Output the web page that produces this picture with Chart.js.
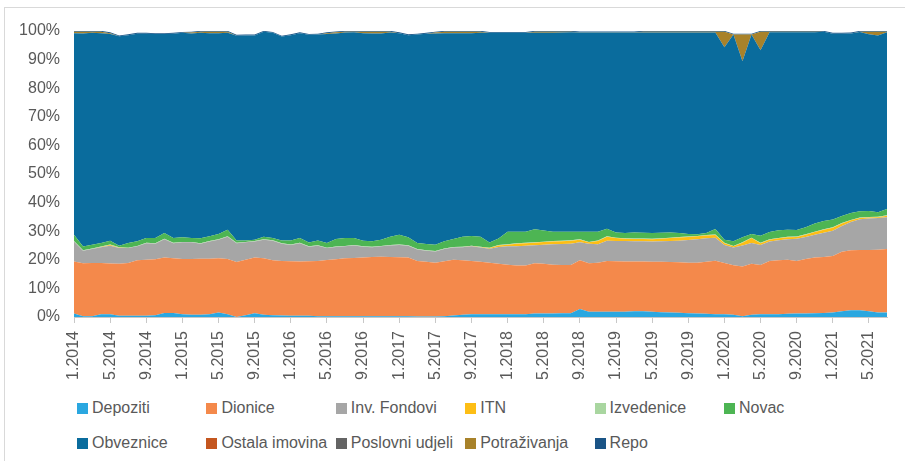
<!DOCTYPE html>
<html lang="hr">
<head>
  <meta charset="UTF-8" />
  <title>Struktura imovine</title>
  <script src="https://cdn.jsdelivr.net/npm/chart.js"></script>
  <style>
    body {
      margin: 0;
      background: white;
      font-family: "Liberation Sans", Arial, sans-serif;
      color: #595959;
    }
    .frame {
      position: absolute;
      left: 4px;
      top: 7px;
      width: 1000px;
      height: 1000px;
      border-left: 1px solid #d9d9d9;
      border-top: 1px solid #d9d9d9;
    }
    #chart {
      position: absolute;
      left: 0;
      top: 0;
    }
    .legend-item {
      position: absolute;
      font-size: 16px;
      line-height: 18px;
      white-space: nowrap;
    }
    .legend-item span {
      display: inline-block;
      width: 11px;
      height: 11px;
      margin-right: 4px;
      vertical-align: -1px;
    }
  </style>
</head>
<body>
  <div class="frame"></div>
  <canvas id="chart" width="905" height="390"></canvas>
  <div id="legend"></div>

  <script>
    // monthly, 1.2014 .. 7.2021
    const months = [];
    for (let y = 2014; y <= 2021; y++) {
      for (let m = 1; m <= 12; m++) {
        if (y === 2021 && m > 7) break;
        months.push(m + "." + y);
      }
    }

    const depoziti = [1.2,0.3,0.3,1.0,1.0,0.4,0.4,0.4,0.4,0.6, 1.4,1.4,1.0,0.8,0.8,1.0,1.6,1.0,0.0,0.6, 1.3,0.8,0.6,0.5,0.4,0.4,0.4,0.3,0.3,0.3, 0.3,0.3,0.3,0.3,0.3,0.3,0.3,0.3,0.2,0.2, 0.2,0.3,0.5,0.8,1.0,1.0,1.0,1.0,1.0,1.0, 1.0,1.2,1.2,1.2,1.3,1.3,2.8,1.8,1.8,1.8, 1.8,1.8,2.0,2.0,1.8,1.7,1.6,1.5,1.3,1.2, 1.1,1.0,1.0,0.8,0.3,0.8,1.0,1.0,1.0,1.1, 1.2,1.2,1.3,1.4,1.6,2.0,2.4,2.4,2.0,1.6, 1.6];
    const dionice = [18.2,18.5,18.6,17.9,17.7,18.2,18.5,19.4,19.6,19.6, 19.4,19.1,19.3,19.5,19.6,19.4,18.9,19.3,19.2,19.4, 19.5,19.7,19.2,19.1,19.1,19.0,19.1,19.3,19.6,19.9, 20.2,20.3,20.5,20.7,20.8,20.7,20.6,20.5,19.4,19.1, 18.8,19.2,19.5,19.0,18.6,18.3,18.0,17.6,17.3,17.0, 17.0,17.6,17.4,17.1,16.9,16.9,17.0,17.0,17.2,17.8, 17.7,17.6,17.4,17.4,17.5,17.6,17.6,17.6,17.7,17.8, 18.2,18.7,17.9,17.3,17.4,17.8,17.2,18.6,18.8,18.9, 18.4,19.1,19.5,19.6,19.7,20.8,20.9,21.0,21.4,21.9, 22.2];
    const invFondovi = [7.0,4.4,4.9,5.5,6.2,5.5,5.2,4.9,5.8,5.4, 6.4,5.3,5.8,5.8,5.2,6.0,6.5,7.8,6.6,6.1, 5.6,6.5,6.9,6.0,5.7,6.4,5.1,5.3,4.2,4.3, 4.2,4.4,3.8,3.4,3.6,4.0,4.3,4.1,4.0,3.9, 3.9,4.3,4.3,4.6,5.1,5.0,4.9,5.9,6.4,6.7, 6.9,6.3,6.7,7.1,7.3,7.4,6.3,6.8,6.4,7.1, 7.1,7.2,7.1,7.1,7.1,7.2,7.4,7.6,7.9,8.2, 8.2,8.0,6.3,6.2,7.3,7.3,7.0,6.8,7.0,7.2, 7.8,7.7,8.0,8.5,8.9,9.0,9.9,10.8,11.0,11.1, 11.1];
    const itn = [0,0,0,0.1,0.3,0.1,0,0,0,0, 0,0,0,0,0,0,0,0,0,0, 0,0,0,0,0,0,0,0,0,0, 0,0,0,0,0,0,0,0,0,0, 0,0,0,0,0.1,0.1,0.2,0.5,0.6,0.9, 0.9,0.9,0.9,1.0,1.0,1.1,0.9,0.5,1.2,1.4, 1.0,0.8,0.8,0.8,0.8,0.9,1.0,1.1,1.1,1.0, 1.0,1.0,0.6,0.4,1.0,1.7,0.6,0.6,0.7,0.7, 0.6,0.8,0.9,1.0,1.0,0.9,0.6,0.4,0.4,0.3, 0.5];
    const izvedenice = [0.15,0.15,0.15,0.15,0.15,0.15,0.15,0.15,0.15,0.15, 0.15,0.15,0.15,0.15,0.15,0.15,0.15,0.15,0.15,0.15, 0.15,0.15,0.15,0.15,0.15,0.15,0.15,0.15,0.15,0.15, 0.15,0.15,0.15,0.15,0.15,0.15,0.15,0.15,0.15,0.15, 0.15,0.15,0.15,0.15,0.15,0.15,0.15,0.15,0.15,0.15, 0.15,0.15,0.15,0.15,0.15,0.15,0.15,0.15,0.15,0.15, 0.15,0.15,0.15,0.15,0.15,0.15,0.15,0.15,0.15,0.15, 0.15,0.15,0.15,0.15,0.15,0.15,0.15,0.15,0.15,0.15, 0.15,0.15,0.15,0.15,0.15,0.15,0.15,0.15,0.15,0.15, 0.15];
    const novac = [2.2,1.3,1.3,1.2,1.3,0.6,1.6,1.6,1.7,1.9, 2.0,1.7,1.6,1.4,1.8,1.7,1.9,2.3,0.8,0.5, 0.5,0.9,0.8,1.0,1.4,1.7,1.3,1.7,1.6,2.6, 2.8,2.5,1.9,1.9,2.2,2.9,3.4,2.8,2.1,2.2, 2.2,2.5,2.8,3.5,3.4,3.5,1.8,2.3,4.4,4.1, 3.9,4.5,3.9,3.3,3.2,3.0,2.7,3.6,3.1,2.6, 1.8,1.8,2.1,2.0,2.0,1.9,1.8,1.4,0.9,0.6, 0.7,1.9,1.1,1.6,1.7,1.3,2.5,2.6,2.7,2.5, 2.3,2.4,2.8,2.9,2.7,2.5,2.4,2.2,2.1,1.6, 2.2];
    const obveznice = [70.5,74.5,74.1,73.4,72.3,73.2,72.7,72.6,71.4,71.3, 69.6,71.4,71.5,71.5,71.8,71.0,70.2,68.8,71.6,71.7, 71.4,71.7,71.7,71.3,71.8,71.6,72.6,72.0,73.1,71.9, 71.8,71.9,72.6,72.7,72.1,71.4,70.5,70.7,72.9,73.5, 73.9,72.8,72.0,71.2,70.9,71.3,73.3,71.9,69.5,69.5, 69.5,68.7,69.1,69.5,69.6,69.7,69.6,69.6,69.6,68.6, 69.9,70.1,69.9,70.0,70.1,70.0,69.9,70.1,70.4,70.5, 70.1,68.7,67.3,72.3,61.6,69.7,64.8,69.8,69.2,69.0, 69.1,68.2,66.9,66.2,65.0,63.7,62.8,62.7,61.8,61.8, 61.8];
    const ostalaImovina = [0,0,0,0,0,0,0,0,0,0, 0,0,0,0,0,0,0,0,0,0, 0,0,0,0,0,0,0,0,0,0, 0,0,0,0,0,0,0,0,0,0, 0,0,0,0,0,0,0,0,0,0, 0,0,0,0,0,0,0,0,0,0, 0,0,0,0,0,0,0,0,0,0, 0,0,0,0,0,0,0,0,0,0, 0,0,0,0,0,0,0,0,0,0, 0];
    const poslovniUdjeli = [0,0,0,0,0,0,0,0,0,0, 0,0,0,0,0,0,0,0,0,0, 0,0,0,0,0,0,0,0,0,0, 0,0,0,0,0,0,0,0,0,0, 0,0,0,0,0,0,0,0,0,0, 0,0,0,0,0,0,0,0,0,0, 0,0,0,0,0,0,0,0,0,0, 0,0,0,0,0,0,0,0,0,0, 0,0,0,0,0,0,0,0,0,0, 0];
    const potrazivanja = [0.5,0.6,0.4,0.5,0.3,0,0,0,0,0, 0,0,0,0.3,0.4,0.5,0.5,0.4,0,0, 0,0,0,0,0,0,0,0,0.3,0.4, 0.3,0.2,0.5,0.6,0.6,0.3,0,0,0,0, 0.3,0.5,0.5,0.5,0.5,0.4,0,0,0,0, 0,0.4,0.4,0.4,0.3,0.2,0.1,0.1,0.1,0.1, 0.1,0.1,0.1,0.3,0.3,0.3,0.3,0.3,0.3,0.3, 0.3,0.3,5.4,0,9.3,0,6.5,0.2,0.2,0.2, 0.2,0.2,0.2,0,0,0,0,0.1,0.9,1.3, 0.2];
    const repo = [0.3,0.3,0.3,0.3,0.3,0.3,0.3,0.3,0.3,0.3, 0.3,0.3,0.3,0.3,0.3,0.3,0.3,0.3,0.3,0.3, 0.3,0.3,0.3,0.3,0.3,0.3,0.3,0.3,0.3,0.3, 0.3,0.3,0.3,0.3,0.3,0.3,0.3,0.3,0.3,0.3, 0.3,0.3,0.3,0.3,0.3,0.3,0.3,0.3,0.3,0.3, 0.3,0.3,0.3,0.3,0.3,0.3,0.3,0.3,0.3,0.3, 0.3,0.3,0.3,0.3,0.3,0.3,0.3,0.3,0.3,0.3, 0.3,0.3,0.3,0.3,0.3,0.3,0.3,0.3,0.3,0.3, 0.3,0.3,0.3,0.3,0.3,0.3,0.3,0.3,0.3,0.3, 0.3];

    const yTicks = [0, 10, 20, 30, 40, 50, 60, 70, 80, 90, 100];

    const series = [
      { label: "Depoziti", data: depoziti, color: "#2aa7e0" },
      { label: "Dionice", data: dionice, color: "#f4894b" },
      { label: "Inv. Fondovi", data: invFondovi, color: "#a6a6a6" },
      { label: "ITN", data: itn, color: "#fdbe15" },
      { label: "Izvedenice", data: izvedenice, color: "#a9d6a0" },
      { label: "Novac", data: novac, color: "#4db553" },
      { label: "Obveznice", data: obveznice, color: "#0a6c9d" },
      { label: "Ostala imovina", data: ostalaImovina, color: "#c4561f" },
      { label: "Poslovni udjeli", data: poslovniUdjeli, color: "#646464" },
      { label: "Potraživanja", data: potrazivanja, color: "#a8822a" },
      { label: "Repo", data: repo, color: "#1a5486" }
    ];

    const fontFamily = "'Liberation Sans', Arial, sans-serif";

    new Chart(document.getElementById("chart").getContext("2d"), {
      type: "line",
      data: {
        labels: months,
        datasets: series.map((s, i) => ({
          label: s.label,
          data: s.data,
          backgroundColor: s.color,
          borderColor: "transparent",
          borderWidth: 0,
          pointRadius: 0,
          tension: 0,
          fill: i === 0 ? "origin" : "-1"
        }))
      },
      options: {
        responsive: false,
        animation: false,
        layout: { padding: { left: 10, top: 31, right: 18, bottom: 0 } },
        plugins: {
          legend: { display: false },
          tooltip: { enabled: false }
        },
        scales: {
          x: {
            afterFit: s => { s.height = 73; },
            grid: { drawOnChartArea: false, drawTicks: true, tickLength: 6, color: "#c8c8c8" },
            border: { display: true, color: "#c8c8c8" },
            ticks: {
              autoSkip: false,
              minRotation: 90,
              maxRotation: 90,
              padding: 8,
              color: "#595959",
              font: { family: fontFamily, size: 16 },
              callback: function (v, i) { return i % 4 === 0 ? this.getLabelForValue(v) : null; }
            }
          },
          y: {
            stacked: true,
            min: 0,
            max: 100,
            afterFit: s => { s.width = 64; },
            afterBuildTicks: s => { s.ticks = yTicks.map(v => ({ value: v })); },
            grid: { display: false },
            border: { display: false },
            ticks: {
              padding: 6,
              color: "#595959",
              font: { family: fontFamily, size: 16 },
              callback: v => v + "%"
            }
          }
        }
      }
    });

    // legend laid out in fixed columns like the original
    const legend = document.getElementById("legend");
    series.forEach((s, k) => {
      const row = Math.floor(k / 6), col = k % 6;
      const item = document.createElement("div");
      item.className = "legend-item";
      item.style.left = (77 + col * 129.4) + "px";
      item.style.top = (399 + row * 35) + "px";
      item.innerHTML = '<span style="background:' + s.color + '"></span>' + s.label;
      legend.appendChild(item);
    });
  </script>
</body>
</html>
